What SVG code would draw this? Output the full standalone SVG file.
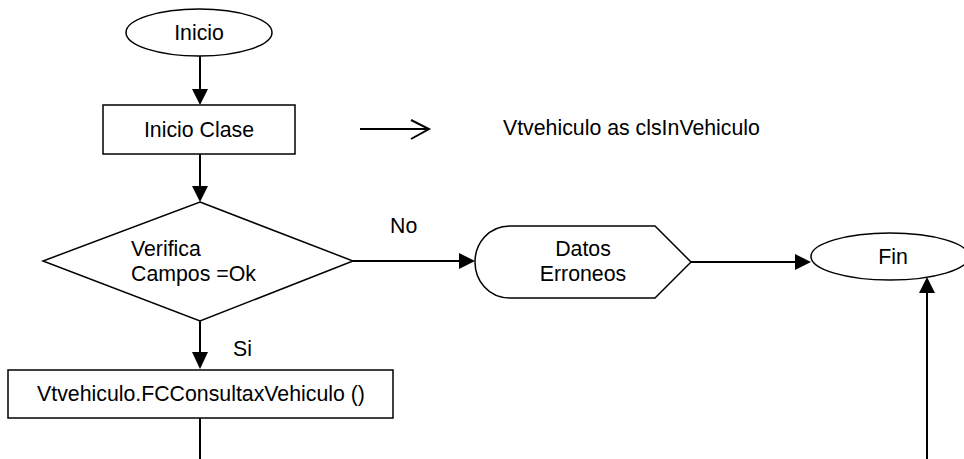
<svg xmlns="http://www.w3.org/2000/svg" width="964" height="459" viewBox="0 0 964 459">
<defs>
<style>
.sh{fill:#fff;stroke:#000;stroke-width:1.5}
.cn{fill:none;stroke:#000;stroke-width:2}
.t{font-family:"Liberation Sans",Arial,sans-serif;font-size:21.3px;fill:#000}
.m{text-anchor:middle}
</style>
</defs>
<rect width="964" height="459" fill="#fff"/>
<g id="connectors">
<line class="cn" x1="200" y1="56" x2="200" y2="89"/>
<path d="M192,89 L208,89 L200,105 Z" fill="#000"/>
<line class="cn" x1="200" y1="154" x2="200" y2="186"/>
<path d="M192,186 L208,186 L200,202 Z" fill="#000"/>
<line class="cn" x1="200" y1="321" x2="200" y2="352"/>
<path d="M192,352 L208,352 L200,369 Z" fill="#000"/>
<line class="cn" x1="200" y1="418" x2="200" y2="459"/>
<line class="cn" x1="353" y1="261" x2="459" y2="261"/>
<path d="M459,253 L459,269 L475,261 Z" fill="#000"/>
<line class="cn" x1="691" y1="262" x2="795" y2="262"/>
<path d="M795,254 L795,270 L811,262 Z" fill="#000"/>
<line class="cn" x1="927" y1="459" x2="927" y2="293"/>
<path d="M919,293 L935,293 L927,277 Z" fill="#000"/>
<line class="cn" x1="360" y1="129" x2="428" y2="129"/>
<polyline class="cn" points="411,120 429,129 411,139"/>
<text class="t" x="390" y="233">No</text>
<text class="t" x="233" y="356">Si</text>
</g>
<g id="inicio">
<ellipse class="sh" cx="199" cy="32.5" rx="73" ry="23.5"/>
<text class="t m" x="199" y="40">Inicio</text>
</g>
<g id="inicio-clase">
<rect class="sh" x="103" y="105" width="192" height="49"/>
<text class="t m" x="199" y="137">Inicio Clase</text>
</g>
<g id="nota">
<text class="t" x="503" y="135">Vtvehiculo as clsInVehiculo</text>
</g>
<g id="verifica">
<polygon class="sh" points="200,202 353,261 200,321 43,261"/>
<text class="t" x="131" y="256">Verifica</text>
<text class="t" x="131" y="281">Campos =Ok</text>
</g>
<g id="consulta">
<rect class="sh" x="8" y="370" width="385" height="48"/>
<text class="t m" x="201" y="401">Vtvehiculo.FCConsultaxVehiculo ()</text>
</g>
<g id="datos-erroneos">
<path class="sh" d="M510,226 L655,226 L691,262 L655,298 L510,298 C488,298 475,280 475,262 C475,244 488,226 510,226 Z"/>
<text class="t m" x="583" y="256">Datos</text>
<text class="t m" x="583" y="281">Erroneos</text>
</g>
<g id="fin">
<ellipse class="sh" cx="890" cy="256.5" rx="79" ry="23.5"/>
<text class="t m" x="893" y="264">Fin</text>
</g>
</svg>
